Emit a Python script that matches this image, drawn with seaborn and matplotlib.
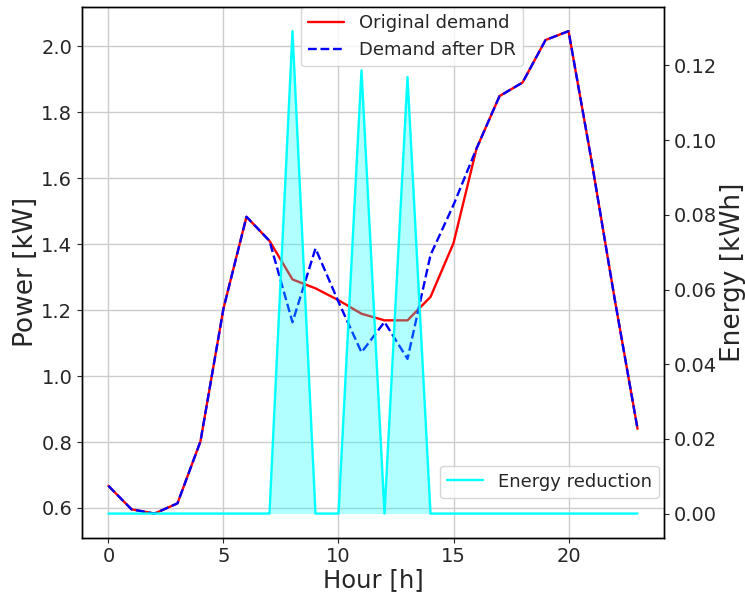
import numpy as np
import pandas as pd
import matplotlib
matplotlib.use("Agg")
import matplotlib.pyplot as plt
import seaborn as sns

hours = list(range(24))
original_demand = [0.667, 0.596, 0.583, 0.614, 0.802, 1.205, 1.483, 1.410,
                   1.293, 1.266, 1.230, 1.189, 1.169, 1.169, 1.240, 1.403,
                   1.690, 1.849, 1.890, 2.019, 2.046, 1.653, 1.236, 0.840]
demand_after_dr = [0.667, 0.596, 0.583, 0.614, 0.802, 1.205, 1.483, 1.410,
                   1.163, 1.387, 1.225, 1.072, 1.164, 1.052, 1.367, 1.519,
                   1.690, 1.849, 1.890, 2.019, 2.046, 1.653, 1.236, 0.840]
energy_reduction = [0, 0, 0, 0, 0, 0, 0, 0,
                    0.1292, 0, 0, 0.1187, 0, 0.1169, 0, 0,
                    0, 0, 0, 0, 0, 0, 0, 0]

df = pd.DataFrame({"hour": hours, "orig": original_demand,
                   "dr": demand_after_dr, "energy": energy_reduction})

sns.set_style("ticks")
plt.rcParams["font.family"] = ["DejaVu Sans"]

fig = plt.figure(figsize=(7.45, 5.97), dpi=100)
ax1 = fig.add_axes([82/745, 1-537.7/597, (664-82)/745, (537.7-7)/597])

lw = 1.7
sns.lineplot(data=df, x="hour", y="orig", ax=ax1, color="red",
             linewidth=lw, label="Original demand")
sns.lineplot(data=df, x="hour", y="dr", ax=ax1, color="blue",
             linewidth=lw, linestyle="--", label="Demand after DR")
ax1.grid(True, color="#cccccc", linewidth=1)
ax1.set_xlabel("Hour [h]", fontsize=17.5, labelpad=1)
ax1.set_ylabel("Power [kW]", fontsize=19, labelpad=2)
ax1.tick_params(labelsize=14)
ax1.set_xticks([0, 5, 10, 15, 20])
ax1.set_yticks([0.6, 0.8, 1.0, 1.2, 1.4, 1.6, 1.8, 2.0])
leg1 = ax1.legend(loc="upper left", bbox_to_anchor=(0.3763, 1.0),
                  borderaxespad=0, fontsize=13)

ax2 = ax1.twinx()
sns.lineplot(data=df, x="hour", y="energy", ax=ax2, color="cyan",
             linewidth=lw, label="Energy reduction")
ax2.fill_between(df["hour"], df["energy"], color="cyan", alpha=0.3,
                 linewidth=0)
ax2.set_ylabel("Energy [kWh]", fontsize=19, labelpad=2)
ax2.tick_params(labelsize=14)
ax2.set_yticks([0.0, 0.02, 0.04, 0.06, 0.08, 0.10, 0.12])
ax2.legend(loc="lower right", bbox_to_anchor=(0.9914, 0.0748),
           borderaxespad=0, fontsize=13)

for ax in (ax1, ax2):
    for s in ax.spines.values():
        s.set_visible(True)
        s.set_color("black")
        s.set_linewidth(1)

fig.savefig("out.png", dpi=100)
